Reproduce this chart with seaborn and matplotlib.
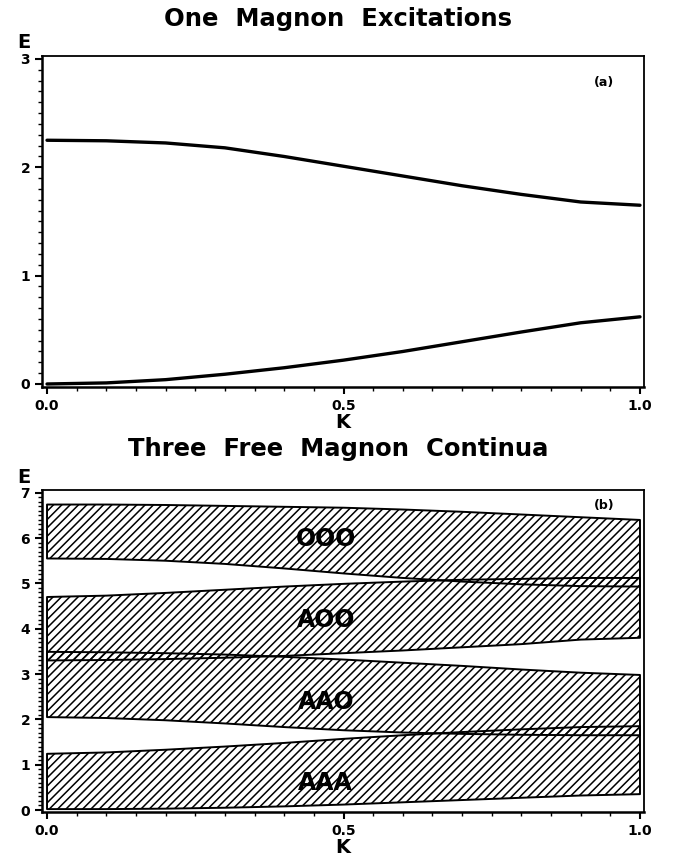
import numpy as np
import pandas as pd
import seaborn as sns
import matplotlib.pyplot as plt
from matplotlib.ticker import MultipleLocator

# wave vector grid (at steps of 0.1)
k = [0.0, 0.1, 0.2, 0.3, 0.4, 0.5, 0.6, 0.7, 0.8, 0.9, 1.0]

# (a) one magnon branches
acoustic = [0.00, 0.01, 0.04, 0.09, 0.15, 0.22, 0.30, 0.39, 0.48, 0.565, 0.62]
optical = [2.25, 2.245, 2.225, 2.18, 2.10, 2.01, 1.92, 1.83, 1.75, 1.68, 1.65]

# (b) three free magnon continua, lower / upper edges
ooo_lo = [5.55, 5.54, 5.50, 5.43, 5.33, 5.22, 5.12, 5.04, 4.98, 4.94, 4.93]
ooo_hi = [6.74, 6.74, 6.73, 6.71, 6.69, 6.67, 6.63, 6.58, 6.52, 6.46, 6.40]
aoo_lo = [3.30, 3.31, 3.33, 3.36, 3.40, 3.46, 3.52, 3.59, 3.66, 3.76, 3.80]
aoo_hi = [4.70, 4.73, 4.79, 4.86, 4.93, 4.99, 5.04, 5.08, 5.10, 5.12, 5.12]
aao_lo = [2.05, 2.03, 1.98, 1.91, 1.83, 1.76, 1.71, 1.68, 1.66, 1.65, 1.65]
aao_hi = [3.49, 3.48, 3.46, 3.43, 3.38, 3.32, 3.25, 3.18, 3.10, 3.03, 2.98]
aaa_lo = [0.02, 0.02, 0.03, 0.05, 0.08, 0.12, 0.17, 0.22, 0.27, 0.32, 0.35]
aaa_hi = [1.24, 1.27, 1.33, 1.40, 1.48, 1.57, 1.65, 1.72, 1.78, 1.83, 1.85]
band_names = ["OOO", "AOO", "AAO", "AAA"]

sns.set_style("ticks")
plt.rcParams['font.family'] = ['DejaVu Sans']
plt.rcParams.update({'text.color': 'black', 'axes.labelcolor': 'black',
                     'xtick.color': 'black', 'ytick.color': 'black',
                     'axes.edgecolor': 'black', 'hatch.linewidth': 1.1})

fig = plt.figure(figsize=(6.76, 8.57), dpi=100)
ax1 = fig.add_axes([0.0621, 0.5484, 0.8905, 0.3863])
ax2 = fig.add_axes([0.0621, 0.0525, 0.8905, 0.3757])

# top panel
df1 = pd.DataFrame({'K': k + k, 'E': acoustic + optical,
                    'branch': ['A'] * len(k) + ['O'] * len(k)})
sns.lineplot(data=df1, x='K', y='E', units='branch', estimator=None,
             color='black', lw=2.4, ax=ax1)
ax1.set_ylim(-0.028, 3.028)
ax1.yaxis.set_major_locator(MultipleLocator(1))
ax1.yaxis.set_minor_locator(MultipleLocator(0.1))
ax1.text(0.94, 2.78, '(a)', ha='center', va='center', fontsize=9, fontweight='bold')

# bottom panel
bands = [(ooo_lo, ooo_hi), (aoo_lo, aoo_hi), (aao_lo, aao_hi), (aaa_lo, aaa_hi)]
for (lo, hi) in bands:
    ax2.fill_between(k, lo, hi, facecolor='none', edgecolor='black',
                     hatch='////', lw=1.4)
for name, ey in zip(band_names, [5.98, 4.2, 2.38, 0.6]):
    ax2.text(0.47, ey, name, ha='center', va='center', fontsize=17, fontweight='bold')
ax2.set_ylim(-0.044, 7.06)
ax2.yaxis.set_major_locator(MultipleLocator(1))
ax2.yaxis.set_minor_locator(MultipleLocator(0.1))
ax2.text(0.94, 6.72, '(b)', ha='center', va='center', fontsize=9, fontweight='bold')

for ax in (ax1, ax2):
    ax.set_xlim(-0.0085, 1.0067)
    ax.xaxis.set_minor_locator(MultipleLocator(0.05))
    ax.set_xticks([0.0, 0.5, 1.0])
    ax.set_xticklabels(['0.0', '0.5', '1.0'])
    ax.set_xlabel('K', fontsize=14, fontweight='bold', labelpad=0)
    ax.set_ylabel('')
    ax.tick_params(which='major', direction='out', length=5, width=1.5, labelsize=10)
    ax.tick_params(which='minor', direction='out', length=3, width=1)
    for lab in ax.get_xticklabels() + ax.get_yticklabels():
        lab.set_fontweight('bold')
    for side in ['left', 'bottom']:
        ax.spines[side].set_linewidth(1.8)
    for side in ['top', 'right']:
        ax.spines[side].set_linewidth(1.3)
        ax.spines[side].set_visible(True)

fig.text(0.5, 1 - 19 / 857, 'One  Magnon  Excitations', ha='center', va='center',
         fontsize=17.5, fontweight='bold')
fig.text(0.5, 1 - 449 / 857, 'Three  Free  Magnon  Continua', ha='center', va='center',
         fontsize=17.5, fontweight='bold')
fig.text(24 / 676, 1 - 42 / 857, 'E', ha='center', va='center', fontsize=14, fontweight='bold')
fig.text(24 / 676, 1 - 477 / 857, 'E', ha='center', va='center', fontsize=14, fontweight='bold')

fig.savefig('out.png', dpi=100)
